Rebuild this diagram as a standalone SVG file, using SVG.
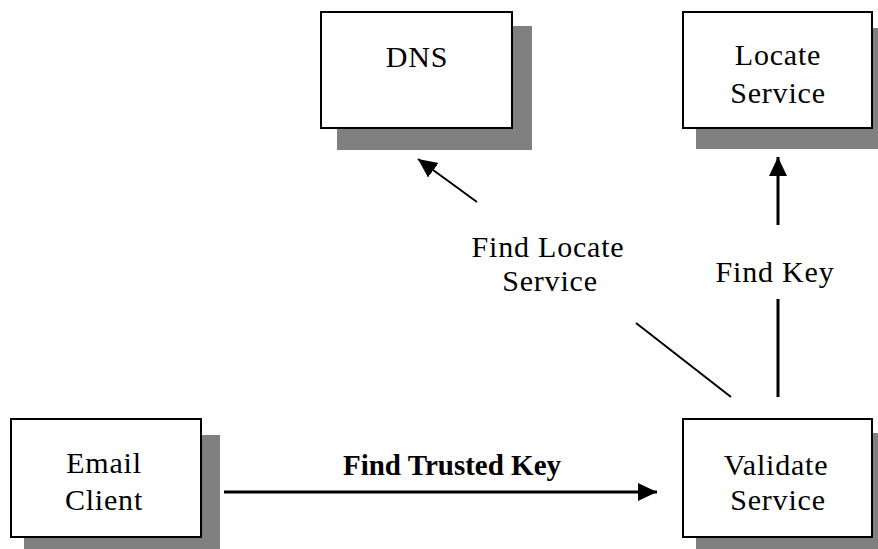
<svg xmlns="http://www.w3.org/2000/svg" width="878" height="549" viewBox="0 0 878 549">
  <style>
    .shadow { fill: #808080; }
    .box { fill: #ffffff; stroke: #000000; stroke-width: 2; }
    .label { font-family: 'Liberation Serif', 'DejaVu Serif', serif; font-size: 30px; letter-spacing: 0.8px; fill: #000000; text-anchor: middle; }
    .bold { font-weight: bold; font-size: 29px; letter-spacing: 0; }
    .wire { fill: none; stroke: #000000; stroke-width: 3; }
    .thin { stroke-width: 2; }
  </style>
  <defs>
    <marker id="arrow" markerUnits="userSpaceOnUse" markerWidth="20" markerHeight="20" viewBox="0 0 20 20" refX="19" refY="10" orient="auto">
      <path d="M0,1 L19,10 L0,19 Z" fill="#000000"/>
    </marker>
  </defs>
  <rect width="878" height="549" fill="#ffffff"/>

  <g id="dns">
    <rect class="shadow" x="337" y="26" width="195" height="124"/>
    <rect class="box" x="321" y="12" width="191" height="116"/>
    <text class="label" x="417" y="67">DNS</text>
  </g>

  <g id="locate-service">
    <rect class="shadow" x="696" y="28" width="182" height="121"/>
    <rect class="box" x="683" y="12" width="189" height="116"/>
    <text class="label" x="778" y="65">Locate</text>
    <text class="label" x="778" y="103">Service</text>
  </g>

  <g id="email-client">
    <rect class="shadow" x="24" y="435" width="196" height="114"/>
    <rect class="box" x="11" y="419" width="190" height="118"/>
    <text class="label" x="104" y="473">Email</text>
    <text class="label" x="104" y="510">Client</text>
  </g>

  <g id="validate-service">
    <rect class="shadow" x="696" y="433" width="182" height="116"/>
    <rect class="box" x="683" y="419" width="189" height="118"/>
    <text class="label" x="776" y="475">Validate</text>
    <text class="label" x="778" y="510">Service</text>
  </g>

  <g id="connectors">
    <!-- Email Client to Validate Service -->
    <line class="wire" x1="224" y1="492" x2="657" y2="492" marker-end="url(#arrow)"/>
    <text class="label bold" x="452" y="475">Find Trusted Key</text>

    <!-- Validate Service to Locate Service -->
    <line class="wire" x1="778" y1="397" x2="778" y2="299"/>
    <line class="wire" x1="778" y1="225" x2="778" y2="157" marker-end="url(#arrow)"/>
    <text class="label" x="775" y="282">Find Key</text>

    <!-- Validate Service to DNS -->
    <line class="wire thin" x1="731" y1="397" x2="636" y2="323"/>
    <line class="wire thin" x1="477" y1="202" x2="418" y2="159" marker-end="url(#arrow)"/>
    <text class="label" x="548" y="257">Find Locate</text>
    <text class="label" x="550" y="291">Service</text>
  </g>
</svg>
